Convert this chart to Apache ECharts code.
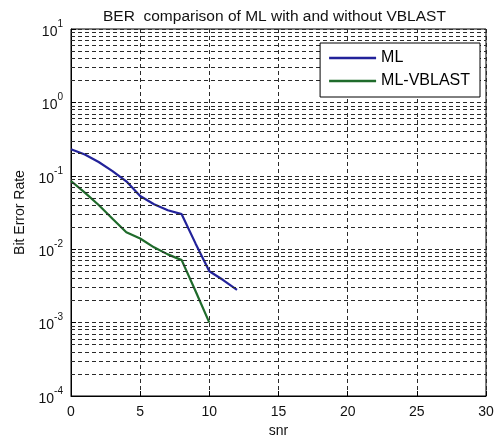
<!DOCTYPE html>
<html><head><meta charset="utf-8">
<script src="https://cdn.jsdelivr.net/npm/echarts@6/dist/echarts.min.js"></script>
<style>html,body{margin:0;padding:0;background:#fff}#c{width:500px;height:443px}</style>
</head><body><div id="c"></div>
<script>
// ---- data ----
const snrML = [0,1,2,3,4,5,6,7,8,9,10,11,12];
const berML = [0.23,0.195,0.154,0.116,0.084,0.053,0.041,0.034,0.030,0.012,0.005,0.0038,0.0028];
const snrVB = [0,1,2,3,4,5,6,7,8,9,10];
const berVB = [0.085,0.059,0.040,0.026,0.017,0.014,0.0106,0.0085,0.0071,0.0027,0.001];
const seriesNames = ['ML','ML-VBLAST'];
const xTicks = [0,5,10,15,20,25,30];
const yDecades = [-4,-3,-2,-1,0,1];
const minorSteps = [2,3,4,5,6,7,8,9];

const FONT = 'Liberation Sans, Arial, sans-serif';
const gridDash = { type: [4,3], color: '#2a2a2a', width: 1 };

const minorLines = [];
yDecades.slice(0, -1).forEach(d => minorSteps.forEach(m => minorLines.push({ yAxis: m * Math.pow(10, d) })));

const chart = echarts.init(document.getElementById('c'));
chart.setOption({
  animation: false,
  backgroundColor: '#fff',
  textStyle: { fontFamily: FONT },
  title: {
    text: 'BER  comparison of ML with and without VBLAST',
    left: 98, top: 4,
    textStyle: { fontSize: 15.5, fontWeight: 'normal', color: '#111', fontFamily: FONT }
  },
  grid: { left: 71, right: 14, top: 29, bottom: 40, show: true, borderColor: '#000', borderWidth: 1, backgroundColor: 'transparent' },
  legend: {
    data: seriesNames,
    orient: 'vertical',
    right: 20, top: 43,
    backgroundColor: '#fff',
    borderColor: '#000', borderWidth: 1, borderRadius: 0,
    padding: [7, 10, 8, 9],
    itemGap: 7,
    itemWidth: 47, itemHeight: 16,
    icon: 'path://M0,0H47V2.4H0Z',
    symbolKeepAspect: true,
    z: 10,
    textStyle: { fontSize: 16, color: '#000', fontFamily: FONT }
  },
  xAxis: {
    type: 'value', min: xTicks[0], max: xTicks[xTicks.length - 1], interval: 5,
    name: 'snr', nameLocation: 'middle', nameGap: 28,
    nameTextStyle: { fontSize: 14, color: '#111', fontFamily: FONT },
    axisLine: { show: true, lineStyle: { color: '#000', width: 1 } },
    axisTick: { show: true, inside: true, length: 5, lineStyle: { color: '#000' } },
    axisLabel: { fontSize: 14, color: '#111', margin: 9, fontFamily: FONT },
    splitLine: { show: true, lineStyle: gridDash }
  },
  yAxis: {
    type: 'log', logBase: 10, min: Math.pow(10, yDecades[0]), max: Math.pow(10, yDecades[yDecades.length - 1]),
    name: 'Bit Error Rate', nameLocation: 'middle', nameGap: 36,
    nameTextStyle: { fontSize: 14, color: '#111', fontFamily: FONT },
    axisLine: { show: true, lineStyle: { color: '#000', width: 1 } },
    axisTick: { show: true, inside: true, length: 5, lineStyle: { color: '#000' } },
    axisLabel: {
      margin: 8,
      formatter: v => '{b|10}{e|' + Math.round(Math.log10(v)) + '}',
      rich: {
        b: { fontSize: 14, color: '#111', lineHeight: 20, verticalAlign: 'bottom', fontFamily: FONT },
        e: { fontSize: 10, color: '#111', lineHeight: 12, verticalAlign: 'top', fontFamily: FONT }
      }
    },
    splitLine: { show: true, lineStyle: gridDash }
  },
  series: [
    {
      name: 'grid-minor', type: 'line', data: [], silent: true, z: 1,
      markLine: { silent: true, precision: 10, symbol: ['none','none'], label: { show: false }, lineStyle: gridDash, emphasis: { disabled: true }, data: minorLines, animation: false }
    },
    {
      name: seriesNames[0], type: 'line', z: 3, symbol: 'none',
      data: snrML.map((x, i) => [x, berML[i]]),
      color: '#22229a', lineStyle: { width: 2.2, color: '#22229a' }
    },
    {
      name: seriesNames[1], type: 'line', z: 3, symbol: 'none',
      data: snrVB.map((x, i) => [x, berVB[i]]),
      color: '#1f6b2b', lineStyle: { width: 2.2, color: '#1f6b2b' }
    }
  ]
});
</script></body></html>
